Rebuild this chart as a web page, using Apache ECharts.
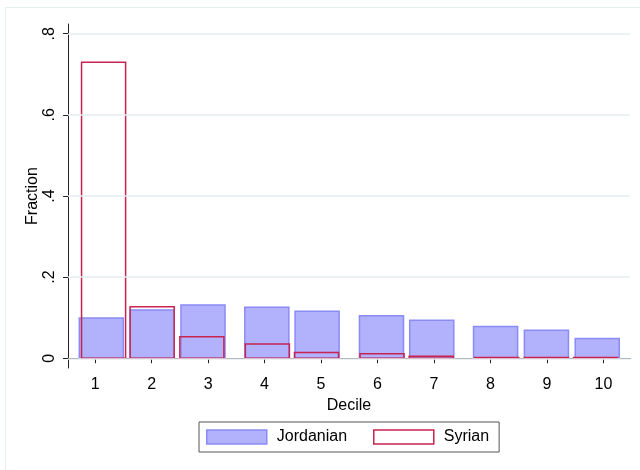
<!DOCTYPE html>
<html>
<head>
<meta charset="utf-8">
<script src="https://cdn.jsdelivr.net/npm/echarts@6/dist/echarts.min.js"></script>
<style>
  html, body { margin: 0; padding: 0; background: #fff; }
  #chart { width: 640px; height: 470px; }
</style>
</head>
<body>
<div id="chart"></div>
<script>
// histogram bars: bin centre on the decile scale and fraction
const jordanX = [1.11, 2.01, 2.91, 4.04, 4.93, 6.07, 6.96, 8.09, 8.99, 9.89];
const jordanY = [0.099, 0.119, 0.131, 0.126, 0.116, 0.105, 0.094, 0.078, 0.069, 0.049];
const syrianX = [1.15, 2.01, 2.89, 4.05, 4.92, 6.08, 6.95, 8.11, 8.99, 9.86];
const syrianY = [0.730, 0.127, 0.053, 0.035, 0.014, 0.011, 0.005, 0.002, 0.002, 0.002];

const xTicks = [1, 2, 3, 4, 5, 6, 7, 8, 9, 10];
const yTicks = [0, 0.2, 0.4, 0.6, 0.8];
const yTickLabels = ['0', '.2', '.4', '.6', '.8'];

const BAR_W = 0.78; // bin width in decile units
const FONT = 'Liberation Sans, Arial, sans-serif';

function barItem(fill, stroke) {
  return function (params, api) {
    const x = api.value(0), v = api.value(1);
    const a = api.coord([x - BAR_W / 2, v]);
    const b = api.coord([x + BAR_W / 2, 0]);
    return {
      type: 'rect',
      shape: { x: a[0], y: a[1], width: b[0] - a[0], height: b[1] - a[1] },
      style: { fill: fill, stroke: stroke, lineWidth: 1.5 }
    };
  };
}

const chart = echarts.init(document.getElementById('chart'), null, { renderer: 'canvas' });

chart.setOption({
  animation: false,
  backgroundColor: '#fff',
  textStyle: { fontFamily: FONT },
  graphic: [{
    type: 'rect',
    shape: { x: 5.5, y: 7.5, width: 700, height: 600 },
    style: { fill: null, stroke: '#e6eef0', lineWidth: 1 },
    silent: true
  }],
  grid: { left: 68, right: 10, top: 24, bottom: 102 },
  xAxis: {
    type: 'value',
    min: 0.52,
    max: 10.47,
    name: 'Decile',
    nameLocation: 'middle',
    nameGap: 27,
    nameTextStyle: { color: '#000', fontSize: 16, fontFamily: FONT },
    axisLine: { show: true, lineStyle: { color: '#222', width: 1 } },
    axisTick: { show: true, length: 5, customValues: xTicks, lineStyle: { color: '#222' } },
    axisLabel: { customValues: xTicks, color: '#000', fontSize: 16, margin: 9, fontFamily: FONT },
    splitLine: { show: false }
  },
  yAxis: {
    type: 'value',
    min: -0.024,
    max: 0.824,
    name: 'Fraction',
    nameLocation: 'middle',
    nameGap: 27,
    nameMoveOverlap: false,
    nameTextStyle: { color: '#000', fontSize: 16, fontFamily: FONT },
    axisLine: { show: true, lineStyle: { color: '#222', width: 1 } },
    axisTick: { show: true, length: 5, customValues: yTicks, lineStyle: { color: '#222' } },
    axisLabel: {
      customValues: yTicks,
      rotate: 90,
      color: '#000',
      fontSize: 16,
      margin: 10,
      fontFamily: FONT,
      formatter: function (v) {
        const i = yTicks.findIndex(t => Math.abs(t - v) < 1e-6);
        return i >= 0 ? yTickLabels[i] : '';
      }
    },
    splitLine: { show: false }
  },
  legend: {
    left: 199,
    top: 422,
    padding: [7, 10, 7, 7],
    itemGap: 26,
    itemWidth: 60,
    itemHeight: 14,
    borderColor: '#555',
    borderWidth: 1,
    textStyle: { color: '#000', fontSize: 16, fontFamily: FONT, padding: [0, 0, 0, 5] },
    data: [
      { name: 'Jordanian', icon: 'rect', itemStyle: { color: '#b1b1fc', borderColor: '#8b8bf6', borderWidth: 1.5 } },
      { name: 'Syrian', icon: 'rect', itemStyle: { color: '#fff', borderColor: '#c8244f', borderWidth: 1.5 } }
    ]
  },
  series: [
    {
      // horizontal grid lines at the y ticks
      type: 'line',
      data: [],
      silent: true,
      markLine: {
        symbol: 'none',
        silent: true,
        label: { show: false },
        lineStyle: { color: '#e6eef0', type: 'solid', width: 1.5 },
        data: yTicks.map(v => ({ yAxis: v }))
      }
    },
    {
      name: 'Jordanian',
      type: 'custom',
      clip: false,
      itemStyle: { color: '#b1b1fc' },
      renderItem: barItem('#b1b1fc', '#8b8bf6'),
      encode: { x: 0, y: 1 },
      data: jordanX.map((x, i) => [x, jordanY[i]])
    },
    {
      name: 'Syrian',
      type: 'custom',
      clip: false,
      itemStyle: { color: '#c8244f' },
      renderItem: barItem(null, '#c8244f'),
      encode: { x: 0, y: 1 },
      data: syrianX.map((x, i) => [x, syrianY[i]])
    }
  ]
});
</script>
</body>
</html>
